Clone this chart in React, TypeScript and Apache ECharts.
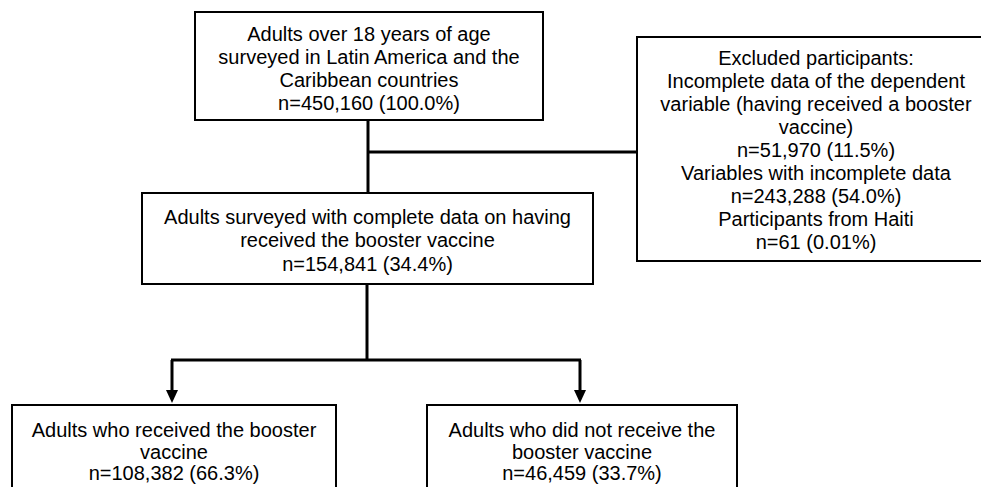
import React, { useEffect, useRef } from "react";
import * as echarts from "echarts";

// Flowchart content
const boxLabels: string[] = [
  "Adults over 18 years of age\nsurveyed in Latin America and the\nCaribbean countries\nn=450,160 (100.0%)",
  "Excluded participants:\nIncomplete data of the dependent\nvariable (having received a booster\nvaccine)\nn=51,970 (11.5%)\nVariables with incomplete data\nn=243,288 (54.0%)\nParticipants from Haiti\nn=61 (0.01%)",
  "Adults surveyed with complete data on having\nreceived the booster vaccine\nn=154,841 (34.4%)",
  "Adults who received the booster\nvaccine\nn=108,382 (66.3%)",
  "Adults who did not receive the\nbooster vaccine\nn=46,459 (33.7%)",
];
// box geometry: [x, y, w, h]
const boxRects: number[][] = [
  [195, 12, 348, 108],
  [637, 37, 358, 224],
  [142, 193, 451, 91],
  [12, 405, 324, 110],
  [427, 405, 310, 110],
];
// text anchor centre y and line height for each box (bottom boxes are cut by the frame)
const textCenterY: number[] = [68, 150, 240, 451.5, 451.5];
const textLineHeight: number[] = [23, 23, 23.5, 21.5, 21.5];

const FONT = "'Liberation Sans', Arial, sans-serif";

export default function App() {
  const ref = useRef<HTMLDivElement>(null);
  useEffect(() => {
    const chart = echarts.init(ref.current!, null, { renderer: "svg" });
    const elements: any[] = [];
    boxRects.forEach((r, i) => {
      elements.push({
        type: "rect",
        shape: { x: r[0], y: r[1], width: r[2], height: r[3] },
        style: { fill: "#ffffff", stroke: "#000000", lineWidth: 2 },
        z: 1,
      });
      elements.push({
        type: "text",
        x: r[0] + r[2] / 2,
        y: textCenterY[i],
        style: {
          text: boxLabels[i],
          fontSize: 20,
          fontFamily: FONT,
          lineHeight: textLineHeight[i],
          fill: "#000000",
          align: "center",
          verticalAlign: "middle",
        },
        z: 3,
      });
    });
    const lineStyle = { stroke: "#000000", lineWidth: 3 };
    const lines = [
      [368, 120, 368, 193],
      [368, 152, 637, 152],
      [367, 284, 367, 360],
      [171, 360, 581, 360],
      [172, 360, 172, 394],
      [580, 360, 580, 394],
    ];
    lines.forEach((l) => {
      elements.push({
        type: "line",
        shape: { x1: l[0], y1: l[1], x2: l[2], y2: l[3] },
        style: lineStyle,
        z: 2,
      });
    });
    [172, 580].forEach((x) => {
      elements.push({
        type: "polygon",
        shape: { points: [[x - 6, 390], [x + 6, 390], [x, 403]] },
        style: { fill: "#000000" },
        z: 2,
      });
    });
    chart.setOption({
      animation: false,
      backgroundColor: "#ffffff",
      graphic: { elements },
    });
    return () => chart.dispose();
  }, []);
  return (
    <div
      ref={ref}
      style={{ position: "fixed", left: 0, top: 0, width: 981, height: 487 }}
    />
  );
}
